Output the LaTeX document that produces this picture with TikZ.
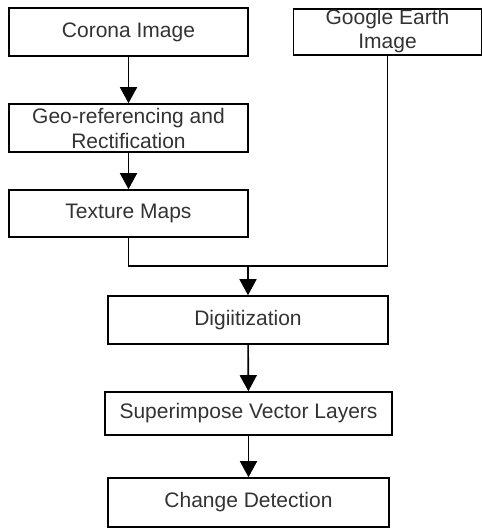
\documentclass[tikz,border=0pt]{standalone}
\usepackage{fontspec}
\setmainfont{Liberation Sans}
\usetikzlibrary{arrows.meta}
\begin{document}
\begin{tikzpicture}[x=1pt,y=1pt,
  box/.style={draw=black,line width=1.6pt,fill=white,inner sep=0pt,align=center,
    font=\fontsize{21}{25}\selectfont,text=black!80},
  conn/.style={line width=1.6pt,black},
  arr/.style={conn,-{Triangle[width=17pt,length=16pt]}}]
\useasboundingbox (0,0) rectangle (482,-528);
\node[box,minimum width=239pt,minimum height=48pt] (corona) at (128.5,-32) {Corona Image};
\node[box,minimum width=188pt,minimum height=46pt] (google) at (387.5,-32) {};
\node[align=center,font=\fontsize{21}{24}\selectfont,text=black!80,inner sep=0pt] (googletxt) at (387.5,-31) {Google Earth\\Image};
\node[box,minimum width=239pt,minimum height=48pt] (geo) at (128.5,-128) {Geo-referencing and\\Rectification};
\node[box,minimum width=239pt,minimum height=47pt] (texture) at (128.5,-213.5) {Texture Maps};
\node[box,minimum width=280pt,minimum height=48pt] (digit) at (248,-320) {Digiitization};
\node[box,minimum width=287pt,minimum height=43pt] (super) at (248.5,-413.5) {Superimpose Vector Layers};
\node[box,minimum width=281pt,minimum height=49pt] (change) at (248.5,-502.5) {Change Detection};
\coordinate (j) at (248,-266);
\draw[arr] (corona) -- (geo);
\draw[arr] (geo) -- (texture);
\draw[conn] (texture.south) |- (google.south |- j) -- (google.south);
\draw[arr] (j) -- (digit.north);
\draw[arr] (digit) -- (super);
\draw[arr] (super) -- (change);
\end{tikzpicture}
\end{document}
